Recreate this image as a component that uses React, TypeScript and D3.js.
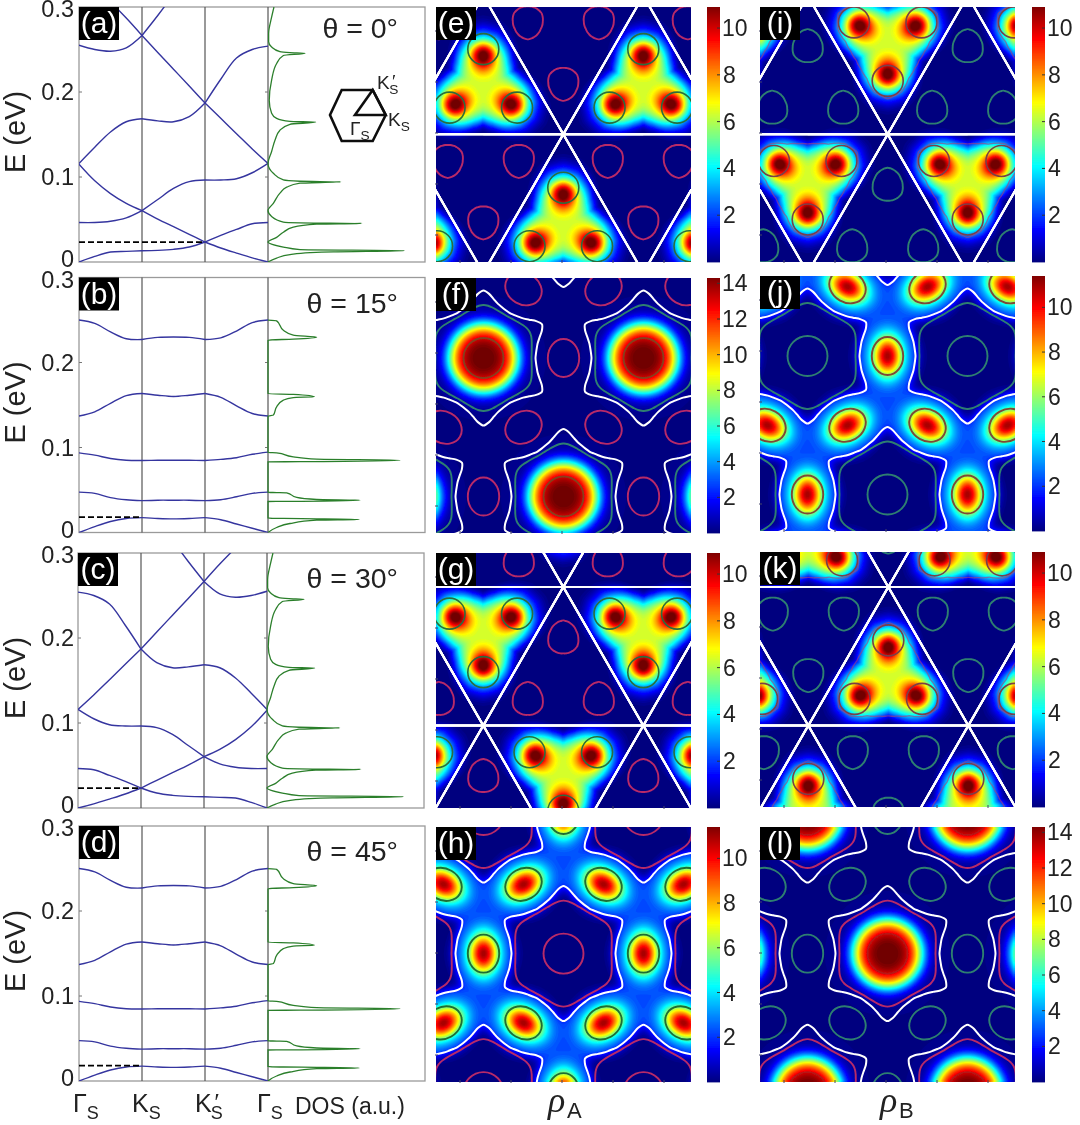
import * as d3 from 'd3';

// band energies (eV) sampled at these k positions (0 = Gamma, 1 = K, 2 = K', 3 = Gamma)
const kGrid = [0, 0.25, 0.5, 0.75, 1, 1.25, 1.5, 1.75, 2, 2.25, 2.5, 2.75, 3];

const bandsZero: (number | null)[][] = [
  [0, 0.0066, 0.0117, 0.0125, 0.0133, 0.0137, 0.0149, 0.0176, 0.0235, 0.0313, 0.0383, 0.045, 0.0465],
  [0.0465, 0.0465, 0.048, 0.052, 0.0605, 0.0505, 0.0415, 0.0325, 0.0235, 0.0165, 0.0105, 0.0048, 0],
  [0.115, 0.0955, 0.0805, 0.069, 0.0605, 0.0735, 0.0865, 0.0945, 0.0965, 0.0965, 0.098, 0.105, 0.116],
  [0.116, 0.135, 0.153, 0.165, 0.1685, 0.166, 0.165, 0.171, 0.187, 0.169, 0.151, 0.133, 0.116],
  [0.255, 0.25, 0.248, 0.252, 0.2665, 0.2465, 0.2268, 0.2071, 0.187, 0.215, 0.24, 0.25, 0.254],
  [null, null, 0.306, 0.287, 0.2665, 0.29, 0.315, null, null, null, null, null, null],
];

const bandsFifteen: (number | null)[][] = [
  [0, 0.007, 0.013, 0.0165, 0.0175, 0.0165, 0.016, 0.0165, 0.0175, 0.015, 0.01, 0.005, 0],
  [0.0475, 0.046, 0.041, 0.0385, 0.0375, 0.038, 0.038, 0.038, 0.0375, 0.0385, 0.042, 0.046, 0.0475],
  [0.0937, 0.091, 0.087, 0.085, 0.0847, 0.085, 0.085, 0.085, 0.0847, 0.086, 0.088, 0.092, 0.0945],
  [0.137, 0.142, 0.152, 0.161, 0.1635, 0.1615, 0.16, 0.1615, 0.1635, 0.159, 0.149, 0.14, 0.137],
  [0.25, 0.246, 0.236, 0.228, 0.227, 0.2295, 0.23, 0.2295, 0.227, 0.229, 0.237, 0.247, 0.25],
];

// density of states: energy (eV) and value (a.u.)
const dosZeroE = [0, 0.0047, 0.0086, 0.011, 0.012, 0.0133, 0.0145, 0.0176, 0.0235, 0.029, 0.035, 0.041, 0.0446, 0.0454, 0.0461, 0.047, 0.0536, 0.0606, 0.069, 0.081, 0.088, 0.0927, 0.0943, 0.095, 0.0966, 0.1044, 0.116, 0.13, 0.1435, 0.155, 0.162, 0.1646, 0.1654, 0.169, 0.175, 0.19, 0.214, 0.2335, 0.243, 0.2456, 0.2464, 0.2475, 0.253, 0.259, 0.2687, 0.288, 0.3];
const dosZeroV = [0, 0.055, 0.14, 0.268, 0.416, 0.868, 0.204, 0.098, 0, 0.055, 0.098, 0.161, 0.31, 0.597, 0.204, 0.098, 0.023, 0, 0.034, 0.076, 0.119, 0.204, 0.463, 0.204, 0.098, 0.034, 0, 0.023, 0.045, 0.076, 0.14, 0.304, 0.14, 0.055, 0.023, 0.008, 0.023, 0.055, 0.098, 0.236, 0.14, 0.076, 0.023, 0.004, 0.004, 0.023, 0.038];
const dosFifteenE = [0, 0.0059, 0.0106, 0.0145, 0.0153, 0.0161, 0.0165, 0.0169, 0.0365, 0.0366, 0.038, 0.0388, 0.0412, 0.0467, 0.047, 0.0472, 0.0831, 0.0833, 0.085, 0.0863, 0.089, 0.0937, 0.0941, 0.1369, 0.138, 0.1478, 0.1557, 0.1588, 0.1596, 0.1624, 0.1631, 0.2263, 0.2275, 0.2298, 0.2322, 0.238, 0.249, 0.2498];
const dosFifteenV = [0, 0.055, 0.14, 0.31, 0.58, 0.31, 0.098, 0, 0, 0.098, 0.586, 0.31, 0.183, 0.119, 0.055, 0, 0, 0.204, 0.84, 0.31, 0.161, 0.055, 0, 0, 0.034, 0.055, 0.098, 0.161, 0.295, 0.161, 0, 0, 0.161, 0.31, 0.161, 0.098, 0.055, 0];

const energyTicks = [0, 0.1, 0.2, 0.3];
const thetaLabels = ['θ = 0°', 'θ = 15°', 'θ = 30°', 'θ = 45°'];
const dashEnergies = [0.0235, 0.018, 0.0235, 0.018];
const dashEnds = [2, 1, 1, 1];

// outline radii against the angle from a tip
const starAngles = [0, 4, 8, 15, 22.5, 30];
const starRadii = [67.5, 65.5, 61, 56, 53, 52];
const hexRadii = [53, 52.7, 51.8, 50, 48.5, 48];
const triAngles = [0, 15, 30, 45, 60];
const triRadii = [57, 52, 42, 38, 36.5];
const plateauRadii = [56, 54, 47, 39, 34];
const pearAngles = [0, 30, 60, 90, 120, 150, 180];
const pearRadii = [18, 16.5, 15, 15, 16, 15.5, 15];

const jetStops = [0, 0.125, 0.375, 0.625, 0.875, 1];
const jetColors = ['#00007f', '#0000ff', '#00ffff', '#ffff00', '#ff0000', '#7f0000'];

const ticks10 = [2, 4, 6, 8, 10];
const ticks14 = [2, 4, 6, 8, 10, 12, 14];

const RED = '#b82a68';
const TEAL = '#2f7f70';

const LAT = 160;
const LATY = 138.56;
const TRI_R = 92.4;
const MAP = 255;

type MapCfg = {
  id: string; x: number; y: number; kind: string; origin: number[]; dir?: number;
  max: number; ticks: number[]; loop: string; circle: string; outline?: string;
};

const maps: MapCfg[] = [
  { id: 'e', x: 436, y: 7, kind: 'tri', origin: [127.3, 127.3], dir: 1, max: 10.9, ticks: ticks10, loop: RED, circle: '#2a6e3c' },
  { id: 'f', x: 436, y: 278, kind: 'dot', origin: [47.5, 80], max: 14.3, ticks: ticks14, loop: RED, circle: '#4f6a30' },
  { id: 'g', x: 436, y: 553, kind: 'tri', origin: [127.3, 34], dir: -1, max: 10.9, ticks: ticks10, loop: RED, circle: '#2a6e3c' },
  { id: 'h', x: 436, y: 827, kind: 'site', origin: [127.5, 126.6], max: 11.4, ticks: ticks10, loop: RED, circle: '#1f6e34' },
  { id: 'i', x: 760, y: 7, kind: 'tri', origin: [127.7, 127.3], dir: -1, max: 10.9, ticks: ticks10, loop: TEAL, circle: '#7a3f46', outline: '#a8407a' },
  { id: 'j', x: 760, y: 276, kind: 'site', origin: [47.5, 80], max: 11.4, ticks: ticks10, loop: TEAL, circle: '#7f4a34' },
  { id: 'k', x: 760, y: 552, kind: 'tri', origin: [128.3, 35], dir: 1, max: 10.9, ticks: ticks10, loop: TEAL, circle: '#7a3f46', outline: '#a8407a' },
  { id: 'l', x: 760, y: 827, kind: 'dot', origin: [127.5, 126.6], max: 14.3, ticks: ticks14, loop: TEAL, circle: '#a0201e' },
];

const bandLabels = ['(a)', '(b)', '(c)', '(d)'];
const bandTops = [7, 277.5, 553, 826];
const bandLefts = [79, 79, 78, 79];
const FONT = '"Liberation Sans", Arial, sans-serif';
const INK = '#222';

const deg = Math.PI / 180;

function latticePoints(origin: number[]) {
  const pts: number[][] = [];
  for (const n of d3.range(-4, 5)) {
    for (const m of d3.range(-5, 6)) {
      const x = origin[0] + m * LAT + n * LAT / 2;
      const y = origin[1] + n * LATY;
      if (x > -250 && x < 500 && y > -250 && y < 500) pts.push([x, y]);
    }
  }
  return pts;
}

// midpoints of neighbouring lattice points, with the bond direction
function bondSites(stars: number[][]) {
  const sites: { x: number; y: number; angle: number }[] = [];
  stars.forEach((a, i) => {
    stars.slice(i + 1).forEach(b => {
      if (Math.abs(Math.hypot(a[0] - b[0], a[1] - b[1]) - LAT) < 2) {
        sites.push({ x: (a[0] + b[0]) / 2, y: (a[1] + b[1]) / 2, angle: Math.atan2(b[1] - a[1], b[0] - a[0]) });
      }
    });
  });
  return sites.filter(s => s.x > -50 && s.x < 305 && s.y > -50 && s.y < 305);
}

const starProfile = d3.scaleLinear(starAngles, starRadii);
const hexProfile = d3.scaleLinear(starAngles, hexRadii);
const triProfile = d3.scaleLinear(triAngles, triRadii);
const plateauProfile = d3.scaleLinear(triAngles, plateauRadii);
const pearProfile = d3.scaleLinear(pearAngles, pearRadii);

function folded(dx: number, dy: number, period: number) {
  let a = Math.atan2(dx, -dy) / deg;
  a = ((a % period) + period) % period;
  return a > period / 2 ? period - a : a;
}

function triField(dx: number, dy: number, dir: number) {
  // dx, dy from the triangle centre, with the tip towards -dir in y
  const ey = dy * dir;
  const s = plateauProfile(folded(dx, ey, 120));
  let v = 6.2 * Math.exp(-Math.pow(Math.hypot(dx, ey) / s, 5));
  for (const a of [0, 120, 240]) {
    const ux = Math.sin(a * deg);
    const uy = -Math.cos(a * deg);
    v += 5.6 * Math.exp(-(Math.pow(dx - ux * 34, 2) + Math.pow(ey - uy * 34, 2)) / 150);
    v += 1.2 * Math.exp(-(Math.pow(dx - ux * 21, 2) + Math.pow(ey - uy * 21, 2)) / 140);
  }
  return v;
}

function buildField(cfg: MapCfg, n: number, step: number) {
  const values = new Float64Array(n * n);
  const pts = latticePoints(cfg.origin);
  const hot = pts.map(p => [p[0], p[1] + (cfg.dir ?? 1) * TRI_R]);
  const sites = bondSites(pts);
  for (let j = 0; j < n; j++) {
    for (let i = 0; i < n; i++) {
      const x = (i + 0.5) * step;
      const y = (j + 0.5) * step;
      let v = 0;
      if (cfg.kind === 'tri') {
        for (const c of hot) {
          const dx = x - c[0];
          const dy = y - c[1];
          if (Math.abs(dx) < 110 && Math.abs(dy) < 110) v += triField(dx, dy, cfg.dir ?? 1);
        }
      } else if (cfg.kind === 'dot') {
        for (const c of pts) {
          const r = Math.hypot(x - c[0], y - c[1]);
          if (r < 120) v += 14.8 * (0.8 * Math.exp(-Math.pow(r / 35, 4.4)) + 0.2 * Math.exp(-Math.pow(r / 38, 2)));
        }
      } else {
        let mask = 1;
        for (const c of pts) {
          const dx = x - c[0];
          const dy = y - c[1];
          const r = Math.hypot(dx, dy);
          if (r < 120) mask *= 1 - Math.exp(-Math.pow(r / (0.96 * starProfile(folded(dx, dy, 60))), 12));
        }
        v = 2.1;
        for (const s of sites) {
          const dx = x - s.x;
          const dy = y - s.y;
          const u = dx * Math.cos(s.angle) + dy * Math.sin(s.angle);
          const w = -dx * Math.sin(s.angle) + dy * Math.cos(s.angle);
          if (Math.abs(u) < 70 && Math.abs(w) < 70) v += 9 * Math.exp(-(u * u) / 230 - (w * w) / 440);
        }
        v *= mask;
      }
      values[j * n + i] = v;
    }
  }
  return values;
}

function radialPath(angles: number[], radius: (a: number) => number) {
  return d3.lineRadial<number>()
    .angle(a => a * deg)
    .radius(a => radius(a))
    .curve(d3.curveCardinalClosed.tension(0.3))(angles) ?? '';
}

const ring = d3.range(0, 360, 5);
const starPath = radialPath(ring, a => starProfile(folded(Math.sin(a * deg), -Math.cos(a * deg), 60)));
const hexPath = radialPath(ring, a => hexProfile(folded(Math.sin(a * deg), -Math.cos(a * deg), 60)));
const triPath = radialPath(ring, a => triProfile(folded(Math.sin(a * deg), -Math.cos(a * deg), 120)));
const pearPath = radialPath(ring, a => pearProfile(folded(Math.sin(a * deg), -Math.cos(a * deg), 360)));

function Sub({ x, y, main, sub, size, prime }: { x: number; y: number; main: string; sub: string; size: number; prime?: boolean }) {
  return (
    <text x={x} y={y} fontFamily={FONT} fontSize={size} fill={INK}>
      {main}
      {prime ? <tspan dy={-size * 0.05} fontFamily="'Liberation Serif'" fontStyle="italic" dx={1}>′</tspan> : null}
      <tspan dy={size * (prime ? 0.33 : 0.28)} dx={prime ? -size * 0.3 : 0} fontSize={size * 0.72}>{sub}</tspan>
    </text>
  );
}

function BandPanel({ index }: { index: number }) {
  const top = bandTops[index];
  const left = bandLefts[index];
  const y = d3.scaleLinear([0, 0.3], [top + 255, top]);
  const kx = d3.scaleLinear([0, 3], [left, left + 189]);
  const dosX = d3.scaleLinear([0, 1], [left + 189, left + 346]);
  const fifteen = index % 2 === 1;
  let bands = fifteen ? bandsFifteen : bandsZero;
  // the 30 degree panel is the 0 degree one run backwards along k
  if (index === 2) bands = bands.map(b => [...b].reverse());
  const dosE = fifteen ? dosFifteenE : dosZeroE;
  const dosV = fifteen ? dosFifteenV : dosZeroV;

  const segment = d3.line<[number, number]>().x(d => kx(d[0])).y(d => y(d[1])).curve(d3.curveCatmullRom.alpha(0.5));
  const dosLine = d3.line<number>().x(d => dosX(dosV[d])).y(d => y(dosE[d])).curve(d3.curveMonotoneY);
  const clipId = `band-${index}`;

  return (
    <g>
      <clipPath id={clipId}><rect x={left} y={top} width={346} height={255} /></clipPath>
      <rect x={left} y={top} width={346} height={255} fill="#fff" stroke="#9a9a9a" strokeWidth={1.3} />
      {[1, 2, 3].map(k => (
        <line key={k} x1={kx(k)} x2={kx(k)} y1={top} y2={top + 255} stroke="#555" strokeWidth={1.2} />
      ))}
      {[0.1, 0.2].map(e => (
        <g key={e} stroke="#777" strokeWidth={1}>
          <line x1={left} x2={left + 3} y1={y(e)} y2={y(e)} />
          <line x1={kx(3)} x2={kx(3) - 3} y1={y(e)} y2={y(e)} />
        </g>
      ))}
      <g clipPath={`url(#${clipId})`} fill="none">
        {bands.flatMap((band, b) => [0, 1, 2].map(seg => {
          const pts = kGrid
            .map((k, i) => [k, band[i]] as [number, number | null])
            .filter(p => p[0] >= seg && p[0] <= seg + 1 && p[1] !== null) as [number, number][];
          return <path key={`${b}-${seg}`} d={segment(pts) ?? ''} stroke="#35359f" strokeWidth={1.4} />;
        }))}
        <path d={dosLine(d3.range(dosE.length)) ?? ''} stroke="#2c7f2c" strokeWidth={1.3} />
        <line x1={kx(0)} x2={kx(dashEnds[index])} y1={y(dashEnergies[index])} y2={y(dashEnergies[index])}
          stroke="#000" strokeWidth={1.8} strokeDasharray="6 3" />
      </g>
      {energyTicks.map(e => (
        <text key={e} x={74} y={y(e) + (e === 0 ? 5 : e === 0.3 ? 10 : 8)} textAnchor="end" fontFamily={FONT} fontSize={23.5} fill={INK}>
          {e === 0 ? '0' : e.toFixed(1)}
        </text>
      ))}
      <text transform={`translate(25,${top + 125}) rotate(-90)`} textAnchor="middle" fontFamily={FONT} fontSize={29} fill={INK}>E (eV)</text>
      <text x={398} y={top + (index === 0 ? 31 : 35)} textAnchor="end" fontFamily={FONT} fontSize={28.5} fill={INK}>{thetaLabels[index]}</text>
      <rect x={left} y={top} width={40} height={33} fill="#000" />
      <text x={left + 20} y={top + 26} textAnchor="middle" fontFamily={FONT} fontSize={30} fill="#fff">{bandLabels[index]}</text>
    </g>
  );
}

function MapPanel({ cfg }: { cfg: MapCfg }) {
  const n = 128;
  const step = MAP / n;
  const jet = d3.scaleLinear<string>(jetStops.map(t => t * cfg.max), jetColors);
  const values = buildField(cfg, n, step);
  const levels = d3.range(0, cfg.max * 1.02, cfg.max / 72);
  const contours = d3.contours().size([n, n]).smooth(true).thresholds(levels)(Array.from(values));
  const path = d3.geoPath(d3.geoIdentity().scale(step) as any);
  const pts = latticePoints(cfg.origin);
  const dir = cfg.dir ?? 1;
  const sites = bondSites(pts);
  const clipId = `map-${cfg.id}`;

  const barX = cfg.x + (cfg.x === 436 ? 271 : 272);
  const barY = d3.scaleLinear([0, cfg.max], [cfg.y + MAP, cfg.y]);
  const rows = d3.range(cfg.y, cfg.y + MAP, 1);

  return (
    <g>
      <clipPath id={clipId}><rect x={0} y={0} width={MAP} height={MAP} /></clipPath>
      <g transform={`translate(${cfg.x},${cfg.y})`}>
        <g clipPath={`url(#${clipId})`}>
          <rect width={MAP} height={MAP} fill={jet(0)} />
          {contours.map(c => <path key={c.value} d={path(c as any) ?? ''} fill={jet(c.value)} />)}

          {cfg.kind === 'tri' && (
            <g fill="none">
              {pts.map((p, i) => (
                <g key={i}>
                  {/* loops in the empty triangles, rings on the bright spots */}
                  {[0, 120, 240].map(a => {
                    const loopC = [p[0], p[1] - dir * TRI_R];
                    const lx = loopC[0] + Math.sin(a * deg) * 41;
                    const ly = loopC[1] + dir * Math.cos(a * deg) * 41;
                    const hotC = [p[0], p[1] + dir * TRI_R];
                    const hx = hotC[0] + Math.sin(a * deg) * 39;
                    const hy = hotC[1] - dir * Math.cos(a * deg) * 39;
                    return (
                      <g key={a}>
                        <path d={pearPath} stroke={cfg.loop} strokeWidth={1.9} transform={`translate(${lx},${ly}) rotate(${dir === 1 ? 180 : 0})`} />
                        <circle cx={hx} cy={hy} r={15.5} stroke={cfg.circle} strokeWidth={1.6} />
                      </g>
                    );
                  })}
                  {cfg.outline && (
                    <path d={triPath} stroke={cfg.outline} strokeWidth={1.3} opacity={0.6}
                      transform={`translate(${p[0]},${p[1] + dir * TRI_R}) rotate(${dir === 1 ? 0 : 180})`} />
                  )}
                </g>
              ))}
              {pts.map((p, i) => (
                <g key={i} stroke="#fff" strokeWidth={2}>
                  <line x1={p[0] - 400} x2={p[0] + 400} y1={p[1]} y2={p[1]} />
                  <line x1={p[0] - 200} x2={p[0] + 200} y1={p[1] - 346.4} y2={p[1] + 346.4} />
                  <line x1={p[0] + 200} x2={p[0] - 200} y1={p[1] - 346.4} y2={p[1] + 346.4} />
                </g>
              ))}
            </g>
          )}

          {cfg.kind !== 'tri' && (
            <g fill="none">
              {sites.map((s, i) => (
                <ellipse key={i} rx={15.7} ry={19} stroke={cfg.kind === 'dot' ? cfg.loop : cfg.circle} strokeWidth={1.9}
                  transform={`translate(${s.x},${s.y}) rotate(${s.angle / deg})`} />
              ))}
              {pts.map((p, i) => (
                <g key={i} transform={`translate(${p[0]},${p[1]})`}>
                  <path d={hexPath} stroke={cfg.id === 'h' || cfg.id === 'l' ? RED : TEAL} strokeWidth={1.9} />
                  <circle r={20} stroke={cfg.kind === 'dot' ? cfg.circle : cfg.loop} strokeWidth={1.9} opacity={cfg.kind === 'dot' ? 0.6 : 1} />
                  <path d={starPath} stroke="#fff" strokeWidth={2} />
                </g>
              ))}
            </g>
          )}
        </g>
        {d3.range(24, MAP, 51).map(t => (
          <g key={t} stroke="#446" strokeWidth={1}>
            <line x1={-1} x2={2} y1={t} y2={t} />
            <line x1={t} x2={t} y1={MAP + 1} y2={MAP - 2} />
          </g>
        ))}
      </g>

      {rows.map(r => (
        <rect key={r} x={barX} y={r} width={13} height={1.4} fill={jet(barY.invert(r + 0.5))} />
      ))}
      {cfg.ticks.map(t => (
        <g key={t}>
          <line x1={barX + 10} x2={barX + 13} y1={barY(t)} y2={barY(t)} stroke="#333" strokeWidth={1} />
          <text x={barX + (t >= 10 ? 15 : 16)} y={barY(t) + 8} fontFamily={FONT} fontSize={23} fill={INK}>{t}</text>
        </g>
      ))}

      <rect x={cfg.x} y={cfg.y} width={40} height={33} fill="#000" />
      <text x={cfg.x + 20} y={cfg.y + 26} textAnchor="middle" fontFamily={FONT} fontSize={30} fill="#fff">{`(${cfg.id})`}</text>
    </g>
  );
}

function BrillouinInset() {
  const hexagon = d3.line()([[341.7, 90], [372.7, 90], [385.7, 115], [372.7, 141], [341.7, 141], [330, 115]]) + 'Z';
  const wedge = d3.line()([[355, 115], [385.7, 115], [372.7, 90]]) + 'Z';
  return (
    <g fill="none" stroke="#111" strokeWidth={2.6}>
      <path d={hexagon} />
      <path d={wedge} />
    </g>
  );
}

export default function App() {
  return (
    <svg width={1080} height={1125} style={{ position: 'absolute', left: 0, top: 0, display: 'block', background: '#fff' }}>
      <defs>
        <filter id="soft" filterUnits="userSpaceOnUse" x={0} y={0} width={1080} height={1125}>
          <feGaussianBlur stdDeviation={0.45} />
        </filter>
      </defs>
      <g filter="url(#soft)">
        <rect width={1080} height={1125} fill="#fff" />
        {bandTops.map((_, i) => <BandPanel key={i} index={i} />)}
        <BrillouinInset />
        <Sub x={377} y={89} main="K" sub="S" size={19} prime />
        <Sub x={388} y={126} main="K" sub="S" size={19} />
        <Sub x={350} y={135} main="Γ" sub="S" size={19} />
        {maps.map(cfg => <MapPanel key={cfg.id} cfg={cfg} />)}

        <Sub x={73} y={1112} main="Γ" sub="S" size={25} />
        <Sub x={132} y={1112} main="K" sub="S" size={25} />
        <Sub x={195} y={1112} main="K" sub="S" size={25} prime />
        <Sub x={257} y={1112} main="Γ" sub="S" size={25} />
        <text x={295} y={1114} fontFamily={FONT} fontSize={23} fill={INK}>DOS (a.u.)</text>

        <text x={548} y={1112} fontFamily="'Liberation Serif', serif" fontStyle="italic" fontSize={36} fill={INK}>ρ</text>
        <text x={567} y={1118} fontFamily={FONT} fontSize={22} fill={INK}>A</text>
        <text x={880} y={1112} fontFamily="'Liberation Serif', serif" fontStyle="italic" fontSize={36} fill={INK}>ρ</text>
        <text x={899} y={1118} fontFamily={FONT} fontSize={22} fill={INK}>B</text>
      </g>
    </svg>
  );
}
